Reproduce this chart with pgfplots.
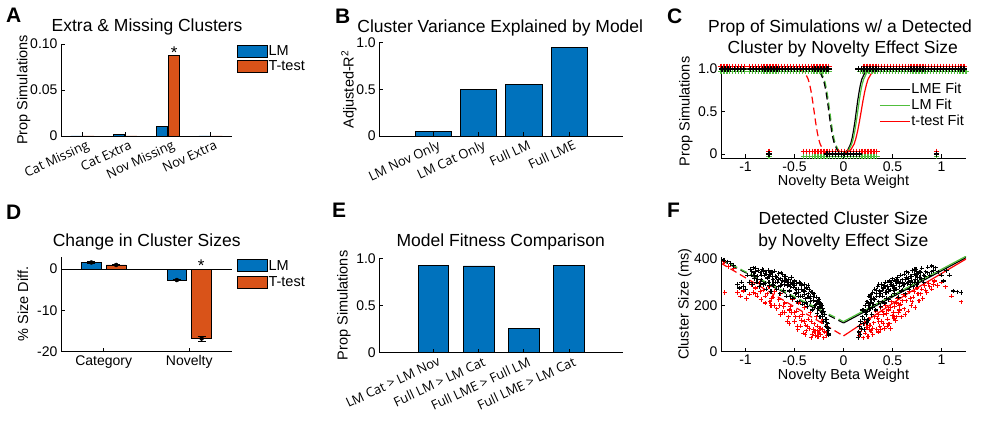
\documentclass[border=0pt]{standalone}
\usepackage{fontspec}
\setmainfont{Liberation Sans}
\newfontfamily\rotfont{Open Sans}
\usepackage{pgfplots}
\pgfplotsset{compat=1.18}

\definecolor{mblue}{rgb}{0,0.447,0.741}
\definecolor{morange}{rgb}{0.851,0.325,0.098}
\definecolor{fgreen}{RGB}{80,190,60}
\definecolor{fred}{RGB}{255,0,0}

\newcommand{\ttl}{\fontsize{17.5}{21}\selectfont}
\newcommand{\lbl}{\fontsize{14.5}{17}\selectfont}
\newcommand{\tck}{\fontsize{14}{16}\selectfont}
\newcommand{\rtck}{\rotfont\fontsize{13}{15}\selectfont}
\newcommand{\pan}{\fontsize{21}{24}\selectfont\bfseries}

\pgfplotsset{
  panel/.style={
    scale only axis, anchor=south west,
    axis lines*=left, axis on top,
    axis line style={black, line width=0.8pt},
    tick align=inside, major tick length=4pt,
    tick style={black, line width=0.8pt},
    every tick label/.append style={font=\tck},
    label style={font=\lbl},
    /pgf/number format/assume math mode=true,
  },
  rotlabels/.style={xticklabel style={xshift=4pt, yshift=-2pt, rotate=25, anchor=north east, inner sep=1pt, font=\rtck}},
  boxleg/.style={legend image code/.code={\draw[##1] (0pt,-6pt) rectangle (30pt,6pt);}},
  fitleg/.style={legend image code/.code={\draw[#1, line width=1.2pt] (0pt,0pt) -- (30pt,0pt);}},
  barleg/.style={legend style={draw=none, fill=none, inner sep=0pt, row sep=2pt,
     nodes={inner sep=0.6pt, font=\lbl}, anchor=north west}, legend cell align=left},
  errs/.style={forget plot, only marks, mark=none,
     error bars/.cd, y dir=both, y explicit, error mark=|,
     error bar style={black, line width=0.8pt},
     error mark options={black, line width=0.8pt, mark size=4pt}},
}

\begin{document}
\begin{tikzpicture}[x=1pt,y=1pt]
\useasboundingbox (0,0) rectangle (981,420);

% ---------------- A ----------------
\begin{axis}[panel, rotlabels, at={(61pt,284pt)}, width=171pt, height=92pt,
  xmin=0.5, xmax=4.5, ymin=0, ymax=0.1,
  xtick={1,2,3,4}, xticklabels={Cat Missing,Cat Extra,Nov Missing,Nov Extra},
  ytick={0,0.05,0.1}, yticklabels={0,0.05,0.10},
  ylabel={Prop Simulations}, ylabel style={at={(rel axis cs:-0.219,0.5)}, anchor=center},
  barleg, legend style={at={(1.029,0.99)}}]
\addplot[ybar, bar width=0.26, bar shift=-0.145, fill=mblue, draw=black, line width=0.8pt, boxleg]
  coordinates {(1,0) (2,0.002) (3,0.0101) (4,0)};
\addplot[ybar, bar width=0.26, bar shift=0.145, fill=morange, draw=black, line width=0.8pt, boxleg]
  coordinates {(1,0) (2,0) (3,0.0875) (4,0)};
\legend{LM,T-test}
\node[font=\fontsize{17}{17}\selectfont, anchor=base] at (axis cs:3.145,0.0847) {*};
\end{axis}

% ---------------- B ----------------
\begin{axis}[panel, rotlabels, at={(379.3pt,284pt)}, width=244pt, height=93.3pt,
  xmin=-0.2, xmax=5.2, ymin=0, ymax=1,
  xtick={1,2,3,4}, xticklabels={LM Nov Only,LM Cat Only,Full LM,Full LME},
  ytick={0,0.5,1}, yticklabels={0,0.5,1.0},
  ylabel={Adjusted-R\textsuperscript{2}}, ylabel style={at={(rel axis cs:-0.124,0.5)}, anchor=center}]
\addplot[ybar, bar width=0.8, fill=mblue, draw=black, line width=0.8pt]
  coordinates {(1,0.046) (2,0.502) (3,0.554) (4,0.946)};
\end{axis}

% ---------------- C ----------------
\begin{axis}[panel, at={(721pt,261.75pt)}, width=245pt, height=93.5pt,
  xmin=-1.25, xmax=1.25, ymin=-0.05, ymax=1.05,
  xtick={-1,-0.5,0,0.5,1}, xticklabels={-1,-0.5,0,0.5,1},
  ytick={0,0.5,1}, yticklabels={0,0.5,1.0},
  xlabel={Novelty Beta Weight}, xlabel style={at={(rel axis cs:0.5,-0.295)}, anchor=base},
  ylabel={Prop Simulations}, ylabel style={at={(rel axis cs:-0.143,0.5)}, anchor=center},
  legend style={draw=none, fill=none, inner sep=0pt, row sep=0pt, at={(0.645,0.826)}, anchor=north west,
     nodes={inner xsep=1pt, inner ysep=2pt, font=\lbl}}, legend cell align=left]
\addplot[black, line width=1.2pt, fitleg=black] coordinates {(0,0.010) (0.044,0.047) (0.073,0.119) (0.087,0.182) (0.101,0.269) (0.116,0.378) (0.130,0.5) (0.144,0.622) (0.159,0.731) (0.173,0.818) (0.187,0.881) (0.216,0.953) (0.244,0.982) (0.273,0.993) (0.33,0.999) (1.25,1)};
\addplot[fgreen, line width=1.2pt, fitleg=fgreen] coordinates {(0,0.008) (0.054,0.047) (0.084,0.119) (0.100,0.182) (0.115,0.269) (0.130,0.378) (0.145,0.5) (0.160,0.622) (0.175,0.731) (0.190,0.818) (0.206,0.881) (0.236,0.953) (0.266,0.982) (0.297,0.993) (0.36,0.999) (1.25,1)};
\addplot[fred, line width=1.2pt, fitleg=fred] coordinates {(0,0.006) (0.037,0.018) (0.073,0.047) (0.109,0.119) (0.126,0.182) (0.144,0.269) (0.162,0.378) (0.18,0.5) (0.198,0.622) (0.216,0.731) (0.234,0.818) (0.251,0.881) (0.287,0.953) (0.323,0.982) (0.359,0.993) (0.43,0.999) (1.25,1)};
\legend{LME Fit,LM Fit,t-test Fit}
\addplot[forget plot, fred, line width=1.2pt, dash pattern=on 7pt off 4pt] coordinates {(-1.25,1) (-0.512,0.999) (-0.452,0.993) (-0.421,0.982) (-0.391,0.953) (-0.361,0.881) (-0.345,0.818) (-0.330,0.731) (-0.315,0.622) (-0.30,0.5) (-0.285,0.378) (-0.270,0.269) (-0.255,0.182) (-0.239,0.119) (-0.209,0.047) (-0.179,0.018) (-0.148,0.007) (0,0)};
\addplot[forget plot, fgreen, line width=1.2pt, dash pattern=on 7pt off 4pt] coordinates {(-1.25,1) (-0.34,0.999) (-0.283,0.993) (-0.254,0.982) (-0.226,0.953) (-0.197,0.881) (-0.183,0.818) (-0.169,0.731) (-0.154,0.622) (-0.14,0.5) (-0.126,0.378) (-0.111,0.269) (-0.097,0.182) (-0.083,0.119) (-0.054,0.047) (-0.026,0.018) (0,0.008)};
\addplot[forget plot, black, line width=1.2pt, dash pattern=on 7pt off 4pt] coordinates {(-1.25,1) (-0.35,0.999) (-0.293,0.993) (-0.264,0.982) (-0.236,0.953) (-0.207,0.881) (-0.193,0.818) (-0.179,0.731) (-0.164,0.622) (-0.15,0.5) (-0.136,0.378) (-0.121,0.269) (-0.107,0.182) (-0.093,0.119) (-0.064,0.047) (-0.036,0.018) (0,0.005)};
% LM points
\addplot[forget plot, only marks, mark=+, mark size=2.8pt, fgreen, line width=1.3pt] coordinates {
 (-1.25,0.97) (-1.22,0.97) (-1.19,0.97) (-1.16,0.97) (-1.13,0.97) (-1.10,0.97) (-1.07,0.97) (-1.04,0.97) (-1.01,0.97)
 (-0.96,0.97) (-0.93,0.97) (-0.90,0.97) (-0.87,0.97) (-0.84,0.97) (-0.81,0.97) (-0.78,0.97) (-0.75,0.97) (-0.72,0.97) (-0.69,0.97) (-0.66,0.97) (-0.63,0.97) (-0.60,0.97) (-0.57,0.97) (-0.54,0.97) (-0.51,0.97) (-0.48,0.97) (-0.45,0.97) (-0.42,0.97) (-0.39,0.97) (-0.36,0.97) (-0.33,0.97) (-0.30,0.97) (-0.27,0.97) (-0.24,0.97) (-0.21,0.97) (-0.18,0.97) (-0.15,0.97)
 (0.17,0.97) (0.20,0.97) (0.23,0.97) (0.26,0.97) (0.29,0.97) (0.32,0.97) (0.35,0.97) (0.38,0.97) (0.41,0.97) (0.44,0.97) (0.47,0.97) (0.50,0.97) (0.53,0.97) (0.56,0.97) (0.59,0.97) (0.62,0.97) (0.65,0.97) (0.68,0.97) (0.71,0.97) (0.74,0.97) (0.77,0.97) (0.80,0.97) (0.83,0.97) (0.86,0.97) (0.89,0.97) (0.92,0.97) (0.95,0.97) (0.98,0.97) (1.01,0.97) (1.04,0.97) (1.07,0.97) (1.10,0.97) (1.13,0.97) (1.16,0.97) (1.19,0.97) (1.22,0.97) (1.25,0.97)
 (-0.76,-0.03) (0.95,-0.03)
 (-0.41,-0.03) (-0.38,-0.03) (-0.35,-0.03) (-0.32,-0.03) (-0.29,-0.03) (-0.26,-0.03) (-0.23,-0.03) (-0.20,-0.03) (-0.17,-0.03) (-0.14,-0.03) (-0.11,-0.03) (-0.08,-0.03) (-0.05,-0.03) (-0.02,-0.03) (0.01,-0.03) (0.04,-0.03) (0.07,-0.03) (0.10,-0.03) (0.13,-0.03) (0.16,-0.03) (0.19,-0.03) (0.22,-0.03) (0.25,-0.03) (0.28,-0.03) (0.31,-0.03) (0.34,-0.03)};
% t-test points
\addplot[forget plot, only marks, mark=+, mark size=2.8pt, fred, line width=1.3pt] coordinates {
 (-1.25,1.03) (-1.22,1.03) (-1.19,1.03) (-1.16,1.03) (-1.13,1.03) (-1.10,1.03) (-1.07,1.03) (-1.04,1.03) (-1.01,1.03)
 (-0.96,1.03) (-0.93,1.03) (-0.90,1.03) (-0.87,1.03) (-0.84,1.03) (-0.81,1.03) (-0.78,1.03) (-0.75,1.03) (-0.72,1.03) (-0.69,1.03) (-0.66,1.03) (-0.63,1.03) (-0.60,1.03) (-0.57,1.03) (-0.54,1.03) (-0.51,1.03) (-0.48,1.03) (-0.45,1.03) (-0.42,1.03) (-0.39,1.03) (-0.36,1.03) (-0.33,1.03) (-0.30,1.03) (-0.27,1.03) (-0.24,1.03) (-0.21,1.03) (-0.18,1.03) (-0.15,1.03)
 (0.21,1.03) (0.24,1.03) (0.27,1.03) (0.30,1.03) (0.33,1.03) (0.36,1.03) (0.39,1.03) (0.42,1.03) (0.45,1.03) (0.48,1.03) (0.51,1.03) (0.54,1.03) (0.57,1.03) (0.60,1.03) (0.63,1.03) (0.66,1.03) (0.69,1.03) (0.72,1.03) (0.75,1.03) (0.78,1.03) (0.81,1.03) (0.84,1.03) (0.87,1.03) (0.90,1.03) (0.93,1.03) (0.96,1.03) (0.99,1.03) (1.02,1.03) (1.05,1.03) (1.08,1.03) (1.11,1.03) (1.14,1.03) (1.17,1.03) (1.20,1.03) (1.23,1.03)
 (-0.76,0.03) (0.95,0.03)
 (-0.41,0.03) (-0.38,0.03) (-0.35,0.03) (-0.32,0.03) (-0.29,0.03) (-0.26,0.03) (-0.23,0.03) (-0.20,0.03) (-0.17,0.03) (-0.14,0.03) (-0.11,0.03) (-0.08,0.03) (-0.05,0.03) (-0.02,0.03) (0.01,0.03) (0.04,0.03) (0.07,0.03) (0.10,0.03) (0.13,0.03) (0.16,0.03) (0.19,0.03) (0.22,0.03) (0.25,0.03) (0.28,0.03) (0.31,0.03) (0.34,0.03)};
% LME points
\addplot[forget plot, only marks, mark=+, mark size=2.8pt, black, line width=1.3pt] coordinates {
 (-1.24,1) (-1.21,1) (-1.18,1) (-1.15,1) (-1.11,1) (-1.08,1) (-1.05,1) (-1.02,1)
 (-0.95,1) (-0.92,1) (-0.89,1) (-0.86,1) (-0.83,1) (-0.80,1) (-0.77,1) (-0.74,1) (-0.71,1) (-0.68,1) (-0.65,1) (-0.62,1) (-0.59,1) (-0.56,1) (-0.53,1) (-0.50,1) (-0.47,1) (-0.44,1) (-0.41,1) (-0.38,1) (-0.35,1) (-0.32,1) (-0.29,1) (-0.26,1) (-0.23,1) (-0.20,1) (-0.17,1) (-0.15,1)
 (0.15,1) (0.18,1) (0.21,1) (0.24,1) (0.27,1) (0.30,1) (0.33,1) (0.36,1) (0.39,1) (0.42,1) (0.45,1) (0.48,1) (0.51,1) (0.54,1) (0.57,1) (0.60,1) (0.63,1) (0.66,1) (0.69,1) (0.72,1) (0.75,1) (0.78,1) (0.81,1) (0.84,1) (0.87,1) (0.90,1) (0.93,1) (0.96,1) (0.99,1) (1.02,1) (1.05,1) (1.08,1) (1.11,1) (1.14,1) (1.17,1) (1.20,1) (1.23,1)
 (-0.76,0) (0.95,0)
 (-0.17,0) (-0.14,0) (-0.11,0) (-0.08,0) (-0.05,0) (-0.02,0) (0.01,0) (0.04,0) (0.07,0) (0.10,0) (0.13,0) (0.16,0)};
\end{axis}

% ---------------- D ----------------
\begin{axis}[panel, at={(61pt,68.3pt)}, width=171pt, height=95pt,
  xmin=0.5, xmax=2.5, ymin=-20, ymax=3,
  xtick={1,2}, xticklabels={Category,Novelty},
  ytick={-20,-10,0}, yticklabels={-20,-10,0},
  ylabel={\% Size Diff.}, ylabel style={at={(rel axis cs:-0.222,0.5)}, anchor=center},
  barleg, legend style={at={(1.029,0.973)}, row sep=4pt}]
\addplot[ybar, bar width=0.23, bar shift=-0.145, fill=mblue, draw=black, line width=0.8pt, boxleg]
  coordinates {(1,1.6) (2,-2.65)};
\addplot[ybar, bar width=0.23, bar shift=0.145, fill=morange, draw=black, line width=0.8pt, boxleg]
  coordinates {(1,1.0) (2,-16.8)};
\legend{LM,T-test}
\addplot[errs] coordinates {(0.855,1.6) +- (0,0.15) (1.855,-2.65) +- (0,0.15) (1.145,1.0) +- (0,0.1) (2.145,-16.8) +- (0,0.6)};
\addplot[forget plot, black, line width=0.8pt] coordinates {(0.5,0) (2.5,0)};
\node[font=\fontsize{17}{17}\selectfont, anchor=base] at (axis cs:2.14,-0.5) {*};
\end{axis}

% ---------------- E ----------------
\begin{axis}[panel, rotlabels, at={(379.3pt,67.3pt)}, width=244pt, height=94.4pt,
  xmin=-0.2, xmax=5.2, ymin=0, ymax=1,
  xtick={1,2,3,4}, xticklabels={LM Cat > LM Nov,Full LM > LM Cat,Full LME > Full LM,Full LME > LM Cat},
  ytick={0,0.5,1}, yticklabels={0,0.5,1.0},
  ylabel={Prop Simulations}, ylabel style={at={(rel axis cs:-0.145,0.5)}, anchor=center}]
\addplot[ybar, bar width=0.68, fill=mblue, draw=black, line width=0.8pt]
  coordinates {(1,0.929) (2,0.919) (3,0.261) (4,0.926)};
\end{axis}

% ---------------- F ----------------
\begin{axis}[panel, at={(721pt,68.3pt)}, width=245pt, height=95pt,
  xmin=-1.25, xmax=1.25, ymin=0, ymax=410,
  xtick={-1,-0.5,0,0.5,1}, xticklabels={-1,-0.5,0,0.5,1},
  ytick={0,200,400}, yticklabels={0,200,400},
  xlabel={Novelty Beta Weight}, xlabel style={at={(rel axis cs:0.5,-0.29)}, anchor=base},
  ylabel={Cluster Size (ms)}, ylabel style={at={(rel axis cs:-0.147,0.5)}, anchor=center}]
\addplot[black, line width=1.2pt, dash pattern=on 7pt off 4pt] coordinates {(-1.25,396) (0,124)};
\addplot[fgreen, line width=1.2pt, dash pattern=on 7pt off 4pt] coordinates {(-1.25,399) (0,130)};
\addplot[fred, line width=1.2pt, dash pattern=on 7pt off 4pt] coordinates {(-1.25,382) (0,68)};
\addplot[black, line width=1.2pt] coordinates {(0,124) (1.25,406)};
\addplot[fgreen, line width=1.2pt] coordinates {(0,130) (1.25,412)};
\addplot[fred, line width=1.2pt] coordinates {(0,68) (0.65,250) (1.25,400)};
% t-test cluster sizes
\addplot[only marks, mark=+, mark size=2.2pt, fred, line width=1.1pt] coordinates {
 (-1.22,390) (-1.21,255) (-1.17,368) (-1.12,360) (-1.08,255) (-1.05,240) (-1.02,262) (-0.99,230) (-0.96,248)
 (-0.94,290) (-0.92,255) (-0.90,275) (-0.88,240) (-0.86,295) (-0.84,225) (-0.82,265) (-0.80,210) (-0.78,250) (-0.76,280)
 (-0.74,200) (-0.72,235) (-0.70,260) (-0.68,185) (-0.66,225) (-0.64,250) (-0.62,170) (-0.60,210) (-0.58,240) (-0.56,150)
 (-0.54,195) (-0.52,225) (-0.50,130) (-0.48,175) (-0.46,210) (-0.44,110) (-0.42,160) (-0.40,190) (-0.38,90) (-0.36,140)
 (-0.34,170) (-0.32,75) (-0.30,120) (-0.28,150) (-0.26,65) (-0.24,100) (-0.22,130) (-0.20,60) (-0.19,85) (-0.17,70)
 (-0.645,160) (-0.555,120) (-0.465,95) (-0.385,115) (-0.305,95) (-0.235,75) (-0.735,230) (-0.61,195) (-0.49,150) (-0.37,110)
 (-0.43,135) (-0.33,130) (-0.27,110) (-0.53,170) (-0.41,80) (-0.29,70)
 (-0.90,250) (-0.85,260) (-0.80,240) (-0.75,215) (-0.70,200) (-0.65,200) (-0.60,170) (-0.55,180) (-0.50,170) (-0.45,150)
 (-0.40,130) (-0.35,100) (-0.30,85) (-0.25,80) (-0.21,95) (-0.57,130) (-0.47,110) (-0.39,75) (-0.33,60) (-0.27,90)
 (0.16,70) (0.18,95) (0.20,60) (0.21,120) (0.22,80) (0.24,105) (0.25,65) (0.26,140) (0.28,90) (0.29,160) (0.30,75)
 (0.31,125) (0.33,175) (0.34,95) (0.35,145) (0.37,110) (0.38,190) (0.39,130) (0.41,160) (0.42,100) (0.43,200) (0.45,140)
 (0.46,180) (0.47,120) (0.49,215) (0.50,155) (0.52,195) (0.53,135) (0.55,230) (0.56,170) (0.58,205) (0.59,150) (0.61,245)
 (0.62,185) (0.64,220) (0.66,175) (0.67,260) (0.69,200) (0.71,235) (0.73,190) (0.75,275) (0.77,220) (0.79,250) (0.81,230)
 (0.83,285) (0.85,255) (0.87,295) (0.90,270) (0.93,305) (0.96,285) (1.0,300) (1.04,280) (1.1,240) (1.2,215)
 (0.355,85) (0.445,110) (0.265,95) (0.405,120) (0.515,145) (0.36,160) (0.48,100) (0.57,180) (0.63,160) (0.70,215)
 (0.23,130) (0.27,115) (0.32,150) (0.36,130) (0.40,175) (0.44,165) (0.48,190) (0.51,170) (0.54,210) (0.57,200) (0.60,220)
 (0.63,240) (0.68,230) (0.72,260) (0.76,250) (0.80,270) (0.84,265) (0.88,280) (0.92,290) (0.30,100) (0.38,95) (0.46,120) (0.54,150)};
% LME cluster sizes
\addplot[only marks, mark=+, mark size=2.2pt, black, line width=1.1pt] coordinates {
 (-1.22,395) (-1.18,388) (-1.15,380) (-1.12,372) (-1.08,290) (-1.06,275) (-1.04,300) (-1.02,282) (-1.0,268) (-0.98,330) (-0.96,300)
 (-0.95,355) (-0.94,330) (-0.93,290) (-0.92,362) (-0.91,315) (-0.90,345) (-0.89,300) (-0.88,325) (-0.87,352) (-0.86,280)
 (-0.85,340) (-0.84,310) (-0.83,355) (-0.82,290) (-0.81,330) (-0.80,345) (-0.79,270) (-0.78,318) (-0.77,350) (-0.76,300)
 (-0.75,335) (-0.74,260) (-0.73,342) (-0.72,310) (-0.71,285) (-0.70,348) (-0.69,325) (-0.68,270) (-0.67,300) (-0.66,338)
 (-0.65,250) (-0.64,315) (-0.63,290) (-0.62,332) (-0.61,265) (-0.60,305) (-0.59,325) (-0.58,240) (-0.57,285) (-0.56,312)
 (-0.55,262) (-0.54,300) (-0.53,320) (-0.52,230) (-0.51,278) (-0.50,305) (-0.49,250) (-0.48,295) (-0.47,215) (-0.46,270)
 (-0.45,298) (-0.44,240) (-0.43,285) (-0.42,205) (-0.41,262) (-0.40,290) (-0.39,228) (-0.38,275) (-0.37,195) (-0.36,250)
 (-0.35,270) (-0.34,215) (-0.33,258) (-0.32,180) (-0.31,238) (-0.30,250) (-0.29,200) (-0.28,235) (-0.27,165) (-0.26,215)
 (-0.25,225) (-0.24,150) (-0.23,195) (-0.22,170) (-0.21,185) (-0.20,130) (-0.19,160) (-0.18,110) (-0.17,140) (-0.16,90)
 (-0.155,100) (-0.15,80) (-0.15,72) (-0.16,120)
 (-0.935,345) (-0.905,328) (-0.875,312) (-0.845,295) (-0.815,345) (-0.785,335) (-0.755,285) (-0.725,325) (-0.695,300)
 (-0.665,280) (-0.635,340) (-0.605,290) (-0.575,300) (-0.545,280) (-0.515,292) (-0.485,270) (-0.455,255) (-0.425,270)
 (-0.395,245) (-0.365,235) (-0.335,240) (-0.305,220) (-0.275,205) (-0.245,195) (-0.215,150) (-0.185,140) (-0.165,105)
 (-0.92,340) (-0.88,300) (-0.84,330) (-0.80,295) (-0.76,325) (-0.72,290) (-0.68,320) (-0.64,285) (-0.60,325) (-0.56,290)
 (-0.52,300) (-0.48,255) (-0.44,295) (-0.40,260) (-0.36,285) (-0.32,255) (-0.28,215) (-0.24,210) (-0.20,175) (-0.17,125)
 (-0.90,360) (-0.82,350) (-0.74,345) (-0.66,310) (-0.58,310) (-0.50,285) (-0.42,240) (-0.34,230) (-0.26,185) (-0.22,200)
 (-0.62,305) (-0.54,240) (-0.46,240) (-0.38,210) (-0.30,190)
 (0.15,62) (0.155,85) (0.16,110) (0.17,75) (0.175,130) (0.18,100) (0.19,150) (0.20,120) (0.205,180) (0.21,95) (0.22,200)
 (0.23,160) (0.24,215) (0.25,135) (0.26,240) (0.27,185) (0.28,225) (0.29,160) (0.30,255) (0.31,205) (0.32,270) (0.33,180)
 (0.34,240) (0.35,280) (0.36,215) (0.37,262) (0.38,195) (0.39,290) (0.40,240) (0.41,275) (0.42,210) (0.43,300) (0.44,255)
 (0.45,282) (0.46,225) (0.47,305) (0.48,265) (0.49,240) (0.50,315) (0.51,285) (0.52,250) (0.53,305) (0.54,270) (0.55,320)
 (0.56,235) (0.57,295) (0.58,330) (0.59,262) (0.60,310) (0.61,285) (0.62,335) (0.63,250) (0.64,320) (0.65,295) (0.66,340)
 (0.67,270) (0.68,325) (0.69,305) (0.70,350) (0.71,280) (0.72,335) (0.73,310) (0.74,355) (0.75,290) (0.76,340) (0.78,320)
 (0.80,360) (0.82,300) (0.84,345) (0.86,365) (0.88,330) (0.90,370) (0.92,350) (0.94,362) (0.97,345) (1.0,330) (1.02,305)
 (1.05,350) (1.08,330) (1.12,262) (1.16,258) (1.20,255)
 (0.215,140) (0.245,175) (0.275,210) (0.305,230) (0.335,250) (0.365,240) (0.395,265) (0.425,255) (0.455,270) (0.485,290)
 (0.515,265) (0.545,295) (0.575,280) (0.605,300) (0.635,310) (0.665,300) (0.695,325) (0.725,300) (0.755,320) (0.79,340) (0.83,325)
 (0.22,170) (0.26,200) (0.30,190) (0.34,265) (0.38,250) (0.42,285) (0.46,260) (0.50,280) (0.54,310) (0.58,300) (0.62,290)
 (0.66,315) (0.70,300) (0.74,330) (0.78,345) (0.82,330) (0.86,340) (0.90,345) (0.28,245) (0.32,225) (0.36,290) (0.40,215)
 (0.44,230) (0.48,300) (0.52,275) (0.56,300) (0.60,265) (0.64,345) (0.68,290) (0.72,355) (0.76,300) (0.80,315) (0.19,180) (0.24,125)};
\end{axis}

% ---------------- titles and panel letters ----------------
\node[font=\ttl, anchor=base] at (147,388.3) {Extra \& Missing Clusters};
\node[font=\ttl, anchor=base] at (500.3,387.7) {Cluster Variance Explained by Model};
\node[font=\ttl, anchor=base] at (840,387.7) {Prop of Simulations w/ a Detected};
\node[font=\ttl, anchor=base] at (842.8,366.7) {Cluster by Novelty Effect Size};
\node[font=\ttl, anchor=base] at (146.7,173.3) {Change in Cluster Sizes};
\node[font=\ttl, anchor=base] at (500.7,173.3) {Model Fitness Comparison};
\node[font=\ttl, anchor=base] at (843.3,195) {Detected Cluster Size};
\node[font=\ttl, anchor=base] at (843.3,173.3) {by Novelty Effect Size};

\node[font=\pan, anchor=base west, inner sep=0pt] at (6,397) {A};
\node[font=\pan, anchor=base west, inner sep=0pt] at (335,396.7) {B};
\node[font=\pan, anchor=base west, inner sep=0pt] at (667,396) {C};
\node[font=\pan, anchor=base west, inner sep=0pt] at (6,200) {D};
\node[font=\pan, anchor=base west, inner sep=0pt] at (332,202) {E};
\node[font=\pan, anchor=base west, inner sep=0pt] at (667,202) {F};
\end{tikzpicture}
\end{document}
